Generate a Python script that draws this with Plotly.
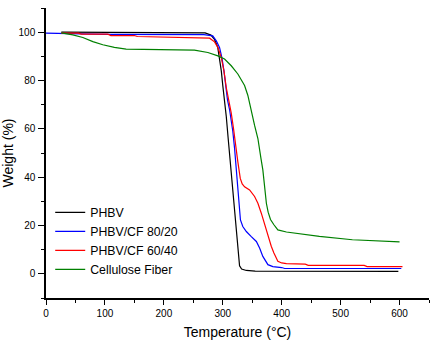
import plotly.graph_objects as go

# PHBV
t_phbv = [26, 150, 252, 270, 280, 286, 291.5, 294.5, 297.5, 300, 303, 306, 309, 312, 315, 318, 321, 324, 326, 328.5, 332, 340, 355, 450, 598]
w_phbv = [100, 100, 100, 99.7, 98.8, 97, 93.7, 89.5, 84, 78, 72.5, 65, 56.5, 47.8, 39, 30.5, 21.8, 13.2, 7.5, 3.3, 2.0, 1.4, 1.1, 1.0, 1.0]

# PHBV/CF 80/20
t_8020 = [0, 55, 60, 110, 200, 268, 283, 289, 294.5, 298.5, 302, 305, 308, 311.5, 314.5, 317, 320, 322, 323.5, 325, 327, 330, 334, 340, 348, 357, 362.5, 368, 376.6, 385, 400, 405, 603]
w_8020 = [99.6, 99.6, 99.3, 99.1, 99.1, 99.0, 98.5, 96.4, 93.7, 89.5, 84, 77, 72, 68, 64, 59, 52, 46, 41, 36, 29, 22.3, 19.6, 17.5, 15.5, 13.4, 10.7, 7.2, 3.8, 3.0, 2.6, 2.2, 2.2]

# PHBV/CF 60/40
t_6040 = [26, 55, 60, 105, 110, 150, 155, 272, 277.6, 286, 291.7, 297.5, 302, 306, 310, 314.4, 318.3, 321.7, 325.6, 329.7, 333, 337, 345.5, 354, 359.6, 365.4, 371, 376.6, 382.3, 386.8, 393.5, 400, 408, 440, 445, 540, 545, 605]
w_6040 = [99.6, 99.6, 99.2, 99.2, 98.6, 98.6, 98.2, 97.8, 97.5, 96, 93.7, 89.5, 84, 77, 72, 66.5, 60, 53, 46.3, 39.5, 37.2, 36, 34.7, 32, 29.2, 25.1, 20.3, 15.5, 11.4, 8.6, 5.2, 4.5, 4.2, 4.0, 3.5, 3.5, 3.0, 3.0]

# Cellulose Fiber
t_cf = [26, 45.5, 62.5, 79.5, 96.4, 116, 136, 200, 252, 274.7, 291.7, 303, 314.4, 325.6, 337, 342.6, 348.4, 354, 359.6, 362, 365, 368, 371, 374, 377, 381, 386.8, 393.5, 408, 440, 464, 520, 560, 600]
w_cf = [99.7, 98.9, 97.8, 96.1, 94.8, 93.7, 93.0, 92.9, 92.6, 91.6, 90.2, 88.9, 86.1, 82.7, 77.9, 73.8, 67, 61.4, 56, 51.5, 47.5, 43, 36, 29.2, 25.5, 22.5, 20.3, 18.2, 17.3, 16.3, 15.5, 14.1, 13.5, 13.2]

series = [
    ("PHBV", t_phbv, w_phbv, "#000000"),
    ("PHBV/CF 80/20", t_8020, w_8020, "#0000FF"),
    ("PHBV/CF 60/40", t_6040, w_6040, "#FF0000"),
    ("Cellulose Fiber", t_cf, w_cf, "#008000"),
]

x_ticks = [0, 100, 200, 300, 400, 500, 600]
y_ticks = [0, 20, 40, 60, 80, 100]

FONT = "Liberation Sans, Arial, sans-serif"

fig = go.Figure()
for name, t, w, c in series:
    fig.add_trace(go.Scatter(x=t, y=w, mode="lines", name=name,
                             line=dict(color=c, width=1.2)))

fig.update_layout(
    width=439, height=340,
    margin=dict(l=46, r=10, t=8, b=42),
    paper_bgcolor="white", plot_bgcolor="white",
    font=dict(family=FONT, color="black", size=10),
    showlegend=True,
    legend=dict(x=0.011, y=0.345, xanchor="left", yanchor="top",
                bgcolor="rgba(0,0,0,0)", font=dict(size=12.3, family=FONT),
                tracegroupgap=0),
)
fig.update_xaxes(
    range=[0, 650], tickvals=x_ticks, ticktext=[str(v) for v in x_ticks],
    automargin=False,
    showgrid=False, zeroline=False, showline=True, linecolor="black", linewidth=1.5,
    ticks="outside", ticklen=5, tickwidth=1.2, tickcolor="black",
    minor=dict(dtick=50, tick0=0, ticks="outside", ticklen=3, tickcolor="black", tickwidth=1),
    tickfont=dict(size=10),
    title=dict(text="Temperature (°C)", font=dict(size=14), standoff=10),
)
fig.update_yaxes(
    range=[-10, 110], tickvals=y_ticks, ticktext=[str(v) for v in y_ticks],
    automargin=False,
    showgrid=False, zeroline=False, showline=True, linecolor="black", linewidth=1.5,
    ticks="outside", ticklen=6, tickwidth=1.2, tickcolor="black",
    ticklabelstandoff=1,
    minor=dict(dtick=10, tick0=0, ticks="outside", ticklen=3, tickcolor="black", tickwidth=1),
    tickfont=dict(size=10),
    title=dict(text="Weight (%)", font=dict(size=14), standoff=4),
)

fig.write_html("out.html")
